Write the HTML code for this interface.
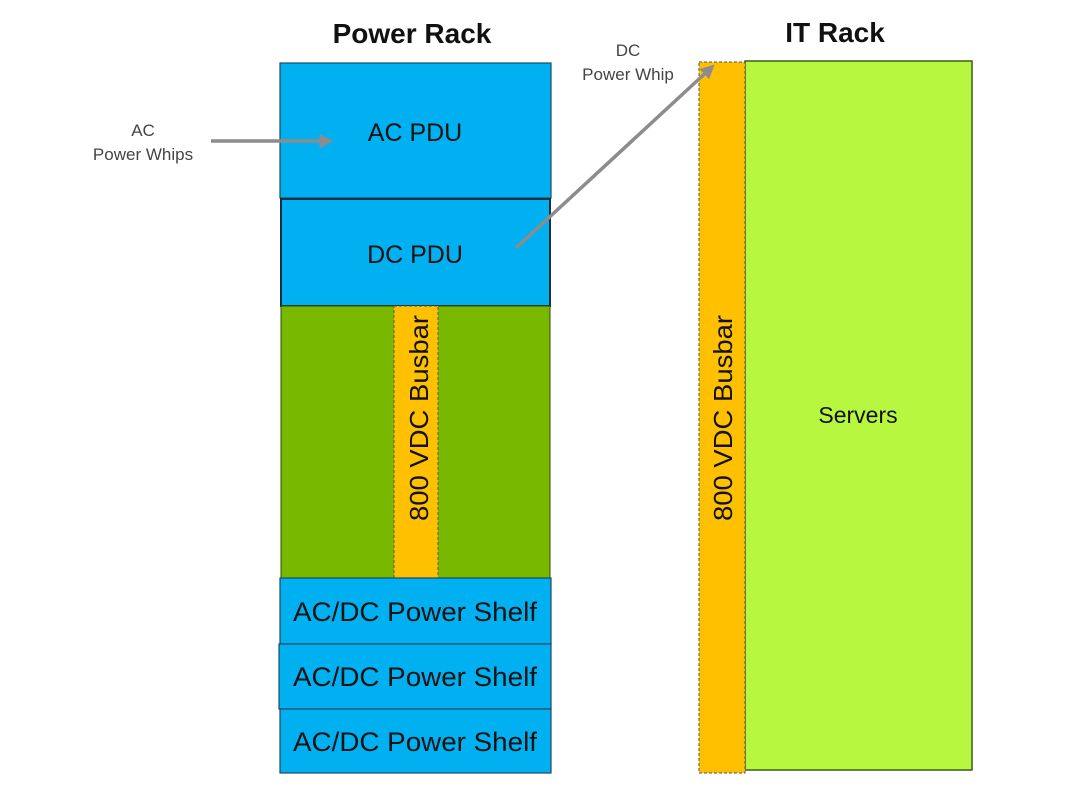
<!DOCTYPE html>
<html><head><meta charset="utf-8"><style>
html,body{margin:0;padding:0;background:#fff;}
svg{display:block;}
text{font-family:"Liberation Sans",sans-serif;}
</style></head><body>
<svg width="1080" height="793" viewBox="0 0 1080 793" xmlns="http://www.w3.org/2000/svg">
<defs>
<marker id="ah" markerWidth="4" markerHeight="4" refX="3" refY="2" orient="auto" markerUnits="strokeWidth">
<path d="M0,0 L4,2 L0,4 z" fill="#8c8c8c"/>
</marker>
</defs>
<rect width="1080" height="793" fill="#fff"/>
<text x="412" y="43" font-size="28" font-weight="bold" text-anchor="middle" fill="#111">Power Rack</text>
<text x="835" y="42" font-size="28" font-weight="bold" text-anchor="middle" fill="#111">IT Rack</text>
<rect x="280" y="63" width="271" height="135" fill="#00b0f0" stroke="#1d4a63" stroke-width="1.2"/>
<rect x="281" y="199" width="269" height="107" fill="#00b0f0" stroke="#0f2f44" stroke-width="2"/>
<rect x="281" y="306" width="269" height="272" fill="#78b900" stroke="#2d4a10" stroke-width="1"/>
<rect x="394" y="306" width="44" height="272" fill="#ffc000" stroke="#555" stroke-width="1" stroke-dasharray="3,2"/>
<rect x="280" y="578" width="271" height="66" fill="#00b0f0" stroke="#1d4a63" stroke-width="1.2"/>
<rect x="279" y="644" width="272" height="65" fill="#00b0f0" stroke="#1d4a63" stroke-width="1.2"/>
<rect x="280" y="709" width="271" height="64" fill="#00b0f0" stroke="#1d4a63" stroke-width="1.2"/>
<text x="415" y="141" font-size="25" text-anchor="middle" fill="#111">AC PDU</text>
<text x="415" y="263" font-size="25" text-anchor="middle" fill="#111">DC PDU</text>
<text x="415" y="621" font-size="27" text-anchor="middle" fill="#111" textLength="244" lengthAdjust="spacingAndGlyphs">AC/DC Power Shelf</text>
<text x="415" y="686" font-size="27" text-anchor="middle" fill="#111" textLength="244" lengthAdjust="spacingAndGlyphs">AC/DC Power Shelf</text>
<text x="415" y="751" font-size="27" text-anchor="middle" fill="#111" textLength="244" lengthAdjust="spacingAndGlyphs">AC/DC Power Shelf</text>
<text transform="translate(428,418) rotate(-90)" font-size="26" text-anchor="middle" fill="#111" textLength="206" lengthAdjust="spacingAndGlyphs">800 VDC Busbar</text>
<rect x="745" y="61" width="227" height="709" fill="#b8f73f" stroke="#3c5a1a" stroke-width="1.5"/>
<rect x="699" y="62" width="46" height="711" fill="#ffc000" stroke="#555" stroke-width="1" stroke-dasharray="3,2"/>
<text transform="translate(732,418) rotate(-90)" font-size="26" text-anchor="middle" fill="#111" textLength="206" lengthAdjust="spacingAndGlyphs">800 VDC Busbar</text>
<text x="858" y="423" font-size="23" text-anchor="middle" fill="#111">Servers</text>
<line x1="211" y1="141" x2="330" y2="141" stroke="#8c8c8c" stroke-width="3.5" marker-end="url(#ah)"/>
<line x1="516" y1="248" x2="712" y2="67" stroke="#8c8c8c" stroke-width="3.5" marker-end="url(#ah)"/>
<text x="143" y="136" font-size="17" text-anchor="middle" fill="#444">AC</text>
<text x="143" y="160" font-size="17" text-anchor="middle" fill="#444">Power Whips</text>
<text x="628" y="56" font-size="17" text-anchor="middle" fill="#444">DC</text>
<text x="628" y="80" font-size="17" text-anchor="middle" fill="#444">Power Whip</text>
</svg>
</body></html>
